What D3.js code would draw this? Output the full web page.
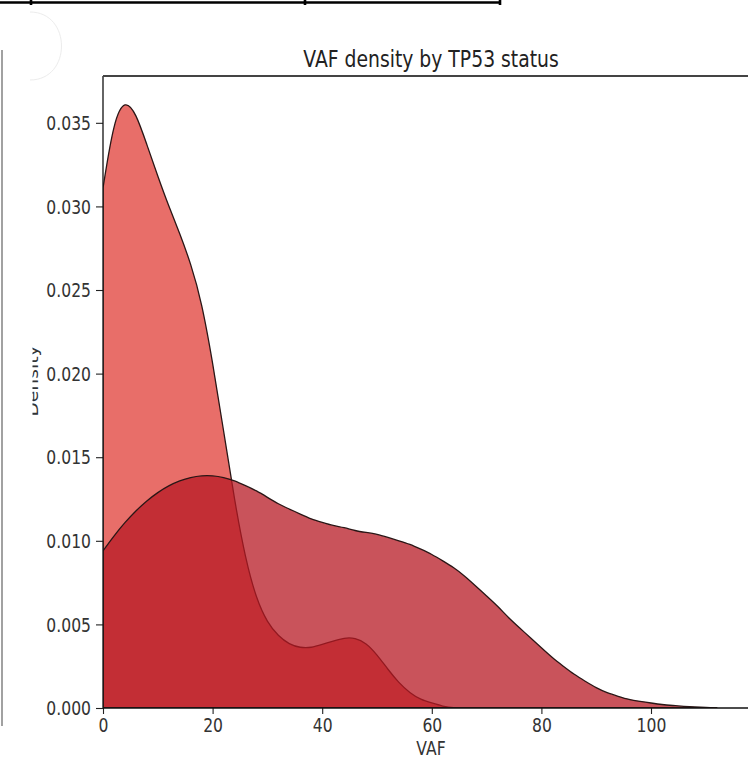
<!DOCTYPE html>
<html>
<head>
<meta charset="utf-8">
<script src="https://cdn.jsdelivr.net/npm/d3@7"></script>
<style>
  html, body { margin: 0; padding: 0; background: #ffffff; }
  svg { display: block; }
</style>
</head>
<body>
<script>
// VAF grid (percent) on which both density estimates are sampled
const vafGrid = [0, 2, 4, 6, 8, 10, 12, 14, 16, 18, 20, 22, 24, 26, 28, 30, 32, 34, 36, 38,
  40, 42, 44, 46, 48, 50, 52, 54, 56, 58, 60, 62, 64, 66, 68, 70, 72, 74, 76, 78,
  80, 82, 84, 86, 88, 90, 92, 94, 96, 98, 100, 102, 104, 106, 108, 110, 112];

// Narrow, low-VAF group
const densityNarrow = [0.0311, 0.0352, 0.0364, 0.0356, 0.0337, 0.0318, 0.0300, 0.0284, 0.0266, 0.0243,
  0.0207, 0.0166, 0.0124, 0.0089, 0.0065, 0.0051, 0.0043, 0.0038, 0.0036, 0.0036,
  0.0038, 0.0040, 0.0042, 0.0042, 0.0039, 0.0032, 0.0023, 0.0015, 0.0009, 0.0005,
  0.0003, 0.0001, 0, 0, 0, 0, 0, 0, 0, 0,
  0, 0, 0, 0, 0, 0, 0, 0, 0, 0,
  0, 0, 0, 0, 0, 0, 0];

// Broad group spanning the full VAF range
const densityBroad = [0.0094, 0.0103, 0.0111, 0.0118, 0.0124, 0.0129, 0.0133, 0.0136, 0.0138, 0.0139,
  0.0139, 0.0138, 0.0136, 0.0133, 0.0130, 0.0126, 0.0122, 0.0119, 0.0116, 0.0113,
  0.0111, 0.0109, 0.0108, 0.0106, 0.0105, 0.0104, 0.0102, 0.0100, 0.0098, 0.0095,
  0.0092, 0.0088, 0.0084, 0.0079, 0.0073, 0.0067, 0.0061, 0.0054, 0.0048, 0.0042,
  0.0036, 0.0030, 0.0025, 0.0020, 0.0016, 0.0012, 0.0009, 0.0007, 0.0005, 0.0004,
  0.0003, 0.0002, 0.00015, 0.0001, 0.00006, 0.00003, 0];

const xTicks = [0, 20, 40, 60, 80, 100];
const yTicks = [0, 0.005, 0.010, 0.015, 0.020, 0.025, 0.030, 0.035];
const chartTitle = "VAF density by TP53 status";
const xLabel = "VAF";
const yLabel = "Density";

const W = 748, H = 761;
const plot = { left: 103, top: 76, bottom: 708 };
const textStretch = 1.2;

const svg = d3.select("body").append("svg")
  .attr("width", W).attr("height", H)
  .attr("viewBox", `0 0 ${W} ${H}`);

const x = d3.scaleLinear().domain([0, 120]).range([plot.left, plot.left + 120 * 5.48]);
const y = d3.scaleLinear().domain([0, 0.0378]).range([plot.bottom, plot.top]);

// Page furniture around the figure
svg.append("path")
  .attr("d", "M0,2.5H500M31,0V5M305,0V5M500,0V5")
  .attr("fill", "none").attr("stroke", "#000").attr("stroke-width", 2.6);
svg.append("line")
  .attr("x1", 2).attr("x2", 2).attr("y1", 50).attr("y2", 726)
  .attr("stroke", "#8a8a8a").attr("stroke-width", 1.6);
svg.append("path")
  .attr("d", "M30,12 C72,12 72,80 30,80")
  .attr("fill", "none").attr("stroke", "#ececec").attr("stroke-width", 1);

const defs = svg.append("defs");
defs.append("clipPath").attr("id", "plotClip")
  .append("rect").attr("x", plot.left).attr("y", plot.top)
  .attr("width", W - plot.left).attr("height", plot.bottom - plot.top);
defs.append("clipPath").attr("id", "ylabClip")
  .append("rect").attr("x", 32.5).attr("y", 300).attr("width", 40).attr("height", 200);

const series = [
  { values: densityNarrow, fill: "#e03e37" },
  { values: densityBroad, fill: "#b71a24" }
];

const area = d3.area()
  .x((d, i) => x(vafGrid[i]))
  .y0(y(0))
  .y1(d => y(d))
  .curve(d3.curveBasis);

const gPlot = svg.append("g").attr("clip-path", "url(#plotClip)");
series.forEach(s => {
  gPlot.append("path")
    .datum(s.values)
    .attr("d", area)
    .attr("fill", s.fill)
    .attr("fill-opacity", 0.75)
    .attr("stroke", "#2a1616")
    .attr("stroke-width", 1.3)
    .attr("stroke-linejoin", "round");
});

// Axes
const xAxis = d3.axisBottom(x).tickValues(xTicks).tickSize(6).tickPadding(4).tickFormat(d3.format("d"));
const yAxis = d3.axisLeft(y).tickValues(yTicks).tickSize(7).tickPadding(5).tickFormat(d3.format(".3f"));

const gx = svg.append("g").attr("transform", `translate(0,${plot.bottom})`).call(xAxis);
const gy = svg.append("g").attr("transform", `translate(${plot.left},0)`).call(yAxis);

[gx, gy].forEach(g => {
  g.select(".domain").remove();
  g.selectAll(".tick line").attr("stroke", "#222").attr("stroke-width", 1.1);
  g.selectAll(".tick text")
    .attr("fill", "#333")
    .style("font-family", "'DejaVu Sans', sans-serif")
    .style("font-size", "15.6px");
});
gx.selectAll(".tick text").each(function () {
  d3.select(this).attr("dy", null).attr("y", null)
    .attr("transform", `translate(0,${6 + 4}) scale(1,${textStretch}) translate(0,11.4)`);
});
gy.selectAll(".tick text").each(function () {
  d3.select(this).attr("dy", null).attr("x", null)
    .attr("transform", `translate(${-7 - 5},0) scale(1,${textStretch}) translate(0,5.6)`);
});

// Spines
svg.append("line").attr("x1", plot.left).attr("x2", W).attr("y1", plot.bottom).attr("y2", plot.bottom)
  .attr("stroke", "#111").attr("stroke-width", 1.3);
svg.append("line").attr("x1", plot.left).attr("x2", plot.left).attr("y1", plot.top).attr("y2", plot.bottom)
  .attr("stroke", "#111").attr("stroke-width", 1.3);
svg.append("line").attr("x1", plot.left).attr("x2", W).attr("y1", plot.top).attr("y2", plot.top)
  .attr("stroke", "#444").attr("stroke-width", 1.8);

// Title and axis labels
svg.append("text")
  .attr("transform", `translate(431,66.5) scale(1,${textStretch})`)
  .attr("text-anchor", "middle")
  .attr("fill", "#222")
  .style("font-family", "'DejaVu Sans', sans-serif")
  .style("font-size", "18.8px")
  .text(chartTitle);

svg.append("text")
  .attr("transform", `translate(431,755) scale(1,${textStretch})`)
  .attr("text-anchor", "middle")
  .attr("fill", "#333")
  .style("font-family", "'DejaVu Sans', sans-serif")
  .style("font-size", "15.6px")
  .text(xLabel);

svg.append("g").attr("clip-path", "url(#ylabClip)")
  .append("text")
  .attr("transform", `translate(38,381) rotate(-90) scale(${textStretch},1)`)
  .attr("text-anchor", "middle")
  .attr("fill", "#333")
  .style("font-family", "'DejaVu Sans', sans-serif")
  .style("font-size", "15.6px")
  .text(yLabel);
</script>
</body>
</html>
